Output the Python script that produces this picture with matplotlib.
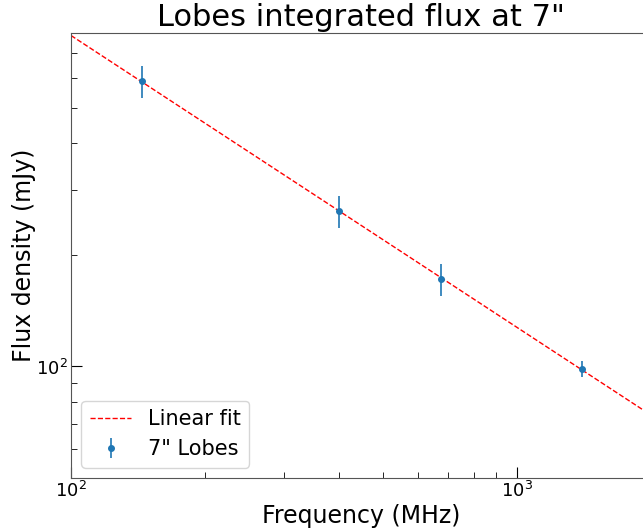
import matplotlib
matplotlib.use("Agg")
import matplotlib.pyplot as plt
import numpy as np

# data
freq = np.array([144.0, 400.0, 675.0, 1400.0])      # MHz
flux = np.array([589.0, 263.0, 172.0, 98.6])        # mJy
flux_err = np.array([58.0, 26.0, 17.0, 5.0])

# linear fit in log-log space
coef = np.polyfit(np.log10(freq), np.log10(flux), 1)
xfit = np.array([100.0, 2000.0])
yfit = 10 ** np.polyval(coef, np.log10(xfit))

fig = plt.figure(figsize=(6.43, 5.31), dpi=100)
ax = fig.add_axes([71 / 643, 1 - 478 / 531, (651 - 71) / 643, (478 - 33) / 531])

ax.plot(xfit, yfit, '--', color='red', lw=1, label='Linear fit')
ax.errorbar(freq, flux, yerr=flux_err, fmt='o', ms=4, color='C0', elinewidth=1.2,
            label='7" Lobes')

ax.set_xscale('log')
ax.set_yscale('log')
ax.set_xlim(100, 2000)
ax.set_ylim(50, 795)

ax.tick_params(which='both', direction='in', labelsize=13, pad=2)
ax.tick_params(which='major', length=8)
ax.tick_params(which='minor', length=4)
for s in ax.spines.values():
    s.set_color('#555555')

ax.set_xlabel('Frequency (MHz)', fontsize=17, labelpad=2)
ax.set_ylabel('Flux density (mJy)', fontsize=17, labelpad=0)
ax.set_title('Lobes integrated flux at 7"', fontsize=22, pad=5)
ax.legend(loc='lower left', fontsize=15)

fig.savefig('out.png', dpi=100)
